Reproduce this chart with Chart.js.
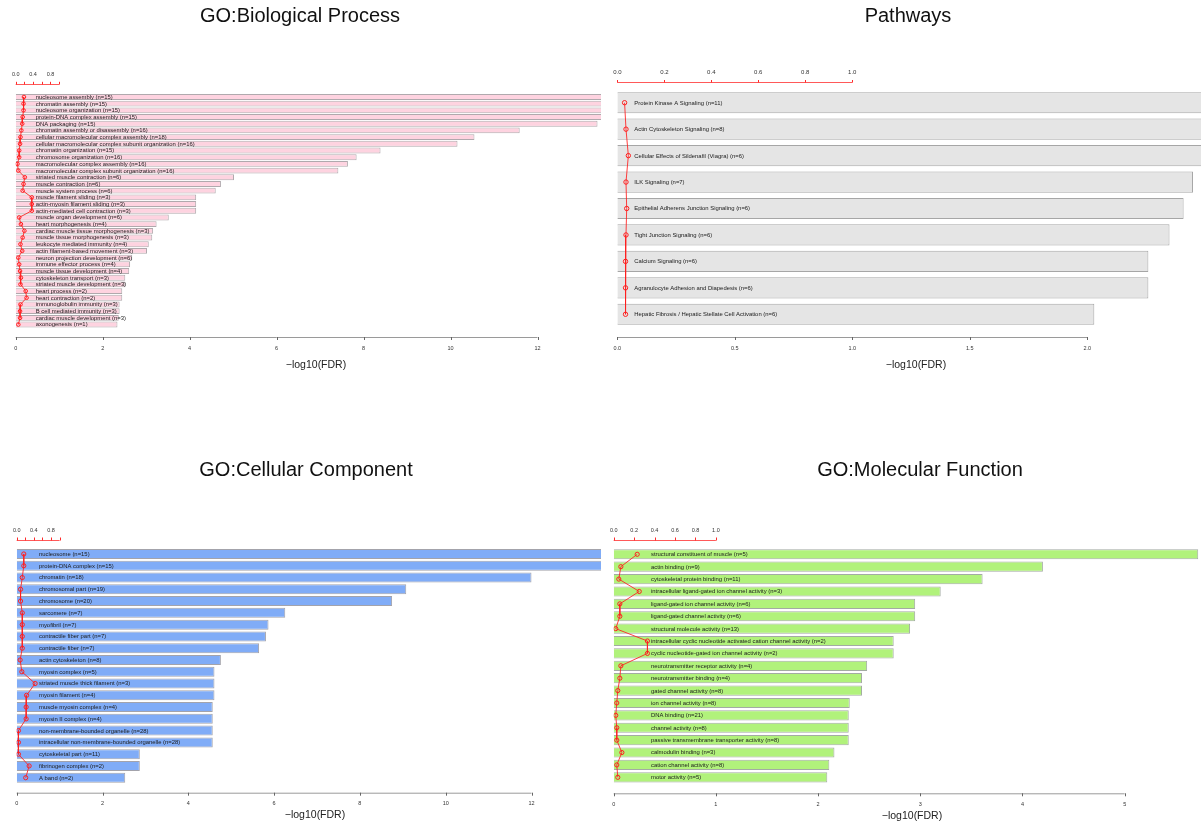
<!DOCTYPE html>
<html>
<head>
<meta charset="utf-8">
<script src="https://cdn.jsdelivr.net/npm/chart.js@4.4.1/dist/chart.umd.min.js"></script>
<style>
  html, body { margin:0; padding:0; background:#fff; }
  body { width:1201px; height:823px; position:relative; overflow:hidden; font-family:"Liberation Sans", Arial, sans-serif; }
  canvas { position:absolute; }
</style>
</head>
<body>
<canvas id="bp" width="601" height="411" style="left:0px;top:0px;width:601px;height:411px"></canvas>
<canvas id="pw" width="601" height="411" style="left:600px;top:0px;width:601px;height:411px"></canvas>
<canvas id="cc" width="601" height="412" style="left:0px;top:411px;width:601px;height:412px"></canvas>
<canvas id="mf" width="601" height="412" style="left:600px;top:411px;width:601px;height:412px"></canvas>
<script>
// ---------------- DATA ----------------
const bpLabels = [
  "nucleosome assembly (n=15)", "chromatin assembly (n=15)", "nucleosome organization (n=15)",
  "protein-DNA complex assembly (n=15)", "DNA packaging (n=15)", "chromatin assembly or disassembly (n=16)",
  "cellular macromolecular complex assembly (n=18)", "cellular macromolecular complex subunit organization (n=16)",
  "chromatin organization (n=15)", "chromosome organization (n=16)", "macromolecular complex assembly (n=16)",
  "macromolecular complex subunit organization (n=16)", "striated muscle contraction (n=6)", "muscle contraction (n=6)",
  "muscle system process (n=6)", "muscle filament sliding (n=3)", "actin-myosin filament sliding (n=3)",
  "actin-mediated cell contraction (n=3)", "muscle organ development (n=6)", "heart morphogenesis (n=4)",
  "cardiac muscle tissue morphogenesis (n=3)", "muscle tissue morphogenesis (n=3)", "leukocyte mediated immunity (n=4)",
  "actin filament-based movement (n=3)", "neuron projection development (n=6)", "immune effector process (n=4)",
  "muscle tissue development (n=4)", "cytoskeleton transport (n=3)", "striated muscle development (n=3)",
  "heart process (n=2)", "heart contraction (n=2)", "immunoglobulin immunity (n=3)", "B cell mediated immunity (n=3)",
  "cardiac muscle development (n=3)", "axonogenesis (n=1)"
];
const bpFDR = [13.6, 13.6, 13.5, 13.5, 13.38, 11.59, 10.55, 10.16, 8.39, 7.84, 7.64, 7.42, 5.02, 4.72, 4.60,
  4.15, 4.15, 4.15, 3.52, 3.24, 3.16, 3.14, 3.06, 3.02, 2.68, 2.63, 2.61, 2.52, 2.52, 2.45, 2.45, 2.39, 2.39, 2.37, 2.34];
const bpRatio = [0.19, 0.18, 0.18, 0.16, 0.15, 0.13, 0.11, 0.10, 0.08, 0.08, 0.04, 0.06, 0.21, 0.18, 0.16,
  0.37, 0.37, 0.37, 0.08, 0.12, 0.20, 0.16, 0.11, 0.15, 0.06, 0.08, 0.10, 0.12, 0.11, 0.23, 0.25, 0.11, 0.10, 0.10, 0.06];
const bpTicks = [0, 2, 4, 6, 8, 10, 12];
const bpTickLabels = ["0", "2", "4", "6", "8", "10", "12"];

const pwLabels = [
  "Protein Kinase A Signaling (n=11)", "Actin Cytoskeleton Signaling (n=8)", "Cellular Effects of Sildenafil (Viagra) (n=6)",
  "ILK Signaling (n=7)", "Epithelial Adherens Junction Signaling (n=6)", "Tight Junction Signaling (n=6)",
  "Calcium Signaling (n=6)", "Agranulocyte Adhesion and Diapedesis (n=6)", "Hepatic Fibrosis / Hepatic Stellate Cell Activation (n=6)"
];
const pwFDR = [2.6, 2.6, 2.6, 2.45, 2.41, 2.35, 2.26, 2.26, 2.03];
const pwRatio = [0.031, 0.037, 0.047, 0.037, 0.040, 0.037, 0.035, 0.035, 0.035];
const pwTicks = [0, 0.5, 1.0, 1.5, 2.0];
const pwTickLabels = ["0.0", "0.5", "1.0", "1.5", "2.0"];

const ccLabels = [
  "nucleosome (n=15)", "protein-DNA complex (n=15)", "chromatin (n=18)", "chromosomal part (n=19)", "chromosome (n=20)",
  "sarcomere (n=7)", "myofibril (n=7)", "contractile fiber part (n=7)", "contractile fiber (n=7)", "actin cytoskeleton (n=8)",
  "myosin complex (n=5)", "striated muscle thick filament (n=3)", "myosin filament (n=4)", "muscle myosin complex (n=4)",
  "myosin II complex (n=4)", "non-membrane-bounded organelle (n=28)", "intracellular non-membrane-bounded organelle (n=28)",
  "cytoskeletal part (n=11)", "fibrinogen complex (n=2)", "A band (n=2)"
];
const ccFDR = [13.8, 13.8, 12.0, 9.08, 8.75, 6.26, 5.87, 5.81, 5.65, 4.76, 4.61, 4.61, 4.61, 4.57, 4.57, 4.57, 4.57, 2.87, 2.87, 2.53];
const ccRatio = [0.165, 0.165, 0.13, 0.09, 0.09, 0.13, 0.13, 0.13, 0.13, 0.08, 0.12, 0.43, 0.23, 0.22, 0.22, 0.04, 0.04, 0.04, 0.29, 0.21];
const ccTicks = [0, 2, 4, 6, 8, 10, 12];
const ccTickLabels = ["0", "2", "4", "6", "8", "10", "12"];

const mfLabels = [
  "structural constituent of muscle (n=5)", "actin binding (n=9)", "cytoskeletal protein binding (n=11)",
  "intracellular ligand-gated ion channel activity (n=3)", "ligand-gated ion channel activity (n=6)",
  "ligand-gated channel activity (n=6)", "structural molecule activity (n=13)",
  "intracellular cyclic nucleotide activated cation channel activity (n=2)", "cyclic nucleotide-gated ion channel activity (n=2)",
  "neurotransmitter receptor activity (n=4)", "neurotransmitter binding (n=4)", "gated channel activity (n=8)",
  "ion channel activity (n=8)", "DNA binding (n=21)", "channel activity (n=8)", "passive transmembrane transporter activity (n=8)",
  "calmodulin binding (n=3)", "cation channel activity (n=8)", "motor activity (n=5)"
];
const mfFDR = [5.72, 4.20, 3.61, 3.20, 2.95, 2.95, 2.90, 2.74, 2.74, 2.48, 2.43, 2.43, 2.31, 2.30, 2.30, 2.30, 2.16, 2.11, 2.09];
const mfRatio = [0.23, 0.07, 0.05, 0.25, 0.06, 0.06, 0.02, 0.33, 0.33, 0.07, 0.06, 0.04, 0.03, 0.02, 0.03, 0.03, 0.08, 0.03, 0.04];
const mfTicks = [0, 1, 2, 3, 4, 5];
const mfTickLabels = ["0", "1", "2", "3", "4", "5"];

const topTicks = [0, 0.2, 0.4, 0.6, 0.8, 1.0];
const topTickLabelsFull = ["0.0", "0.2", "0.4", "0.6", "0.8", "1.0"];
const topTickLabelsSparse = ["0.0", "", "0.4", "", "0.8", ""];

const titles = ["GO:Biological Process", "Pathways", "GO:Cellular Component", "GO:Molecular Function"];
const axisTitle = "\u2212log10(FDR)";

// ---------------- DRAWING ----------------
const FONT = "'Liberation Sans', Arial, sans-serif";

function makePanel(id, cfg) {
  const decor = {
    id: 'decor_' + id,
    afterDatasetDraw(chart, args) {
      if (args.index !== 0) return;
      const ctx = chart.ctx, xs = chart.scales.x, ys = chart.scales.y;
      ctx.save();
      ctx.font = cfg.labelFont + 'px ' + FONT;
      ctx.fillStyle = '#1a1a1a';
      ctx.textBaseline = 'middle';
      ctx.textAlign = 'left';
      const x0 = xs.getPixelForValue(0) + cfg.labelOffset;
      chart.data.labels.forEach((lab, i) => ctx.fillText(lab, x0, ys.getPixelForValue(i) + 0.3));
      ctx.restore();
    },
    afterDraw(chart) {
      const ctx = chart.ctx, xb = chart.scales.x, xt = chart.scales.x2;
      const oy = cfg.canvasTop, ox = cfg.canvasLeft;
      ctx.save();
      // bottom axis
      const bt = xb.ticks.map(t => t.value);
      const by = cfg.bottomAxisY - oy + 0.5;
      ctx.strokeStyle = '#9a9a9a';
      ctx.lineWidth = 1;
      ctx.beginPath();
      ctx.moveTo(xb.getPixelForValue(bt[0]), by);
      ctx.lineTo(xb.getPixelForValue(bt[bt.length - 1]), by);
      ctx.stroke();
      ctx.strokeStyle = '#666';
      bt.forEach(v => {
        const px = Math.round(xb.getPixelForValue(v)) + 0.5;
        ctx.beginPath(); ctx.moveTo(px, by - 0.5); ctx.lineTo(px, by + 2.5); ctx.stroke();
      });
      ctx.fillStyle = '#333';
      ctx.font = cfg.tickFont + 'px ' + FONT;
      ctx.textAlign = 'center';
      ctx.textBaseline = 'middle';
      bt.forEach((v, i) => ctx.fillText(cfg.tickLabels[i], xb.getPixelForValue(v), cfg.bottomLabelY - oy));
      // axis title
      ctx.font = '10.5px ' + FONT;
      ctx.fillStyle = '#222';
      ctx.fillText(axisTitle, cfg.axisTitleX - ox, cfg.axisTitleY - oy);
      // top (red) axis
      const tt = xt.ticks.map(t => t.value);
      const ty = cfg.topAxisY - oy + 0.5;
      ctx.strokeStyle = 'rgba(255,60,60,0.85)';
      ctx.beginPath();
      ctx.moveTo(xt.getPixelForValue(tt[0]), ty);
      ctx.lineTo(xt.getPixelForValue(tt[tt.length - 1]), ty);
      ctx.stroke();
      ctx.strokeStyle = '#ff2a2a';
      tt.forEach(v => {
        const px = Math.round(xt.getPixelForValue(v)) + 0.5;
        ctx.beginPath(); ctx.moveTo(px, ty); ctx.lineTo(px, ty - cfg.topTickLen); ctx.stroke();
      });
      ctx.fillStyle = '#333';
      ctx.font = cfg.topFont + 'px ' + FONT;
      tt.forEach((v, i) => ctx.fillText(cfg.topLabels[i], xt.getPixelForValue(v), cfg.topLabelY - oy));
      // panel title
      ctx.font = '20px ' + FONT;
      ctx.fillStyle = '#111';
      ctx.fillText(cfg.title, cfg.titleX - ox, cfg.titleY - oy);
      ctx.restore();
    }
  };

  return new Chart(document.getElementById(id), {
    type: 'bar',
    data: {
      labels: cfg.labels,
      datasets: [
        {
          type: 'bar', data: cfg.fdr, backgroundColor: cfg.color, borderColor: cfg.edge,
          borderWidth: { top: 1, bottom: 1, left: 0, right: 1 }, borderSkipped: false,
          barPercentage: cfg.barPct, categoryPercentage: 1, xAxisID: 'x', yAxisID: 'y', order: 2
        },
        {
          type: 'line', data: cfg.ratio, borderColor: 'rgba(255,30,30,0.85)', borderWidth: 1,
          pointRadius: cfg.pointR, pointBorderColor: '#ff2020', pointBackgroundColor: 'rgba(0,0,0,0)',
          pointBorderWidth: 1, tension: 0, xAxisID: 'x', yAxisID: 'y', order: 1
        }
      ]
    },
    options: {
      indexAxis: 'y',
      responsive: false,
      animation: false,
      devicePixelRatio: 1,
      layout: { autoPadding: false, padding: { left: cfg.chartLeft - cfg.canvasLeft, right: 0, top: 0, bottom: 0 } },
      plugins: { legend: { display: false }, tooltip: { enabled: false }, title: { display: false } },
      scales: {
        y: { type: 'category', display: false, offset: true },
        x: {
          type: 'linear', position: 'bottom', min: 0, max: cfg.xMax,
          grid: { display: false, drawTicks: false }, border: { display: false }, ticks: { display: false },
          afterBuildTicks: s => { s.ticks = cfg.bottomTicks.map(v => ({ value: v })); },
          afterFit: s => { s.height = cfg.canvasH - (cfg.chartBottom - cfg.canvasTop); }
        },
        x2: {
          type: 'linear', position: 'top', min: 0, max: cfg.xMax,
          grid: { display: false, drawTicks: false }, border: { display: false }, ticks: { display: false },
          afterBuildTicks: s => { s.ticks = topTicks.map(v => ({ value: v })); },
          afterFit: s => { s.height = cfg.chartTop - cfg.canvasTop; }
        }
      }
    },
    plugins: [decor]
  });
}

makePanel('bp', {
  labels: bpLabels, fdr: bpFDR, ratio: bpRatio, bottomTicks: bpTicks, tickLabels: bpTickLabels,
  topLabels: topTickLabelsSparse, title: titles[0],
  color: '#fed3e0', edge: 'rgba(150,140,145,0.75)', barPct: 0.88, pointR: 1.8,
  canvasLeft: 0, canvasTop: 0, canvasH: 411, chartLeft: 15.7, chartTop: 93.6, chartBottom: 327.9, xMax: 13.46,
  labelOffset: 20, labelFont: 5.9, tickFont: 5.5, topFont: 5.5,
  bottomAxisY: 337, bottomLabelY: 348.5, axisTitleX: 316, axisTitleY: 365,
  topAxisY: 84, topTickLen: 2.7, topLabelY: 74, titleX: 300, titleY: 16
});

makePanel('pw', {
  labels: pwLabels, fdr: pwFDR, ratio: pwRatio, bottomTicks: pwTicks, tickLabels: pwTickLabels,
  topLabels: topTickLabelsFull, title: titles[1],
  color: '#e5e5e5', edge: 'rgba(150,150,150,0.85)', barPct: 0.8, pointR: 2.2,
  canvasLeft: 600, canvasTop: 0, canvasH: 411, chartLeft: 617.3, chartTop: 89.5, chartBottom: 327.5, xMax: 2.484,
  labelOffset: 17, labelFont: 5.9, tickFont: 5.5, topFont: 6,
  bottomAxisY: 337, bottomLabelY: 348, axisTitleX: 916, axisTitleY: 365,
  topAxisY: 82, topTickLen: 2.5, topLabelY: 72.7, titleX: 908, titleY: 16
});

makePanel('cc', {
  labels: ccLabels, fdr: ccFDR, ratio: ccRatio, bottomTicks: ccTicks, tickLabels: ccTickLabels,
  topLabels: topTickLabelsSparse, title: titles[2],
  color: '#80acf7', edge: 'rgba(140,140,150,0.8)', barPct: 0.85, pointR: 2.1,
  canvasLeft: 0, canvasTop: 411, canvasH: 412, chartLeft: 16.7, chartTop: 548.1, chartBottom: 783.6, xMax: 13.62,
  labelOffset: 22.3, labelFont: 5.9, tickFont: 5.5, topFont: 5.5,
  bottomAxisY: 792.7, bottomLabelY: 803.3, axisTitleX: 315, axisTitleY: 815.3,
  topAxisY: 540, topTickLen: 3, topLabelY: 530, titleX: 306, titleY: 470
});

makePanel('mf', {
  labels: mfLabels, fdr: mfFDR, ratio: mfRatio, bottomTicks: mfTicks, tickLabels: mfTickLabels,
  topLabels: topTickLabelsFull, title: titles[3],
  color: '#b1f27b', edge: 'rgba(140,150,140,0.8)', barPct: 0.82, pointR: 2.1,
  canvasLeft: 600, canvasTop: 411, canvasH: 412, chartLeft: 613.7, chartTop: 548.1, chartBottom: 783.5, xMax: 5.747,
  labelOffset: 37.3, labelFont: 5.9, tickFont: 5.5, topFont: 5.5,
  bottomAxisY: 793.3, bottomLabelY: 804, axisTitleX: 912, axisTitleY: 815.7,
  topAxisY: 540, topTickLen: 3, topLabelY: 530, titleX: 920, titleY: 470
});
</script>
</body>
</html>
